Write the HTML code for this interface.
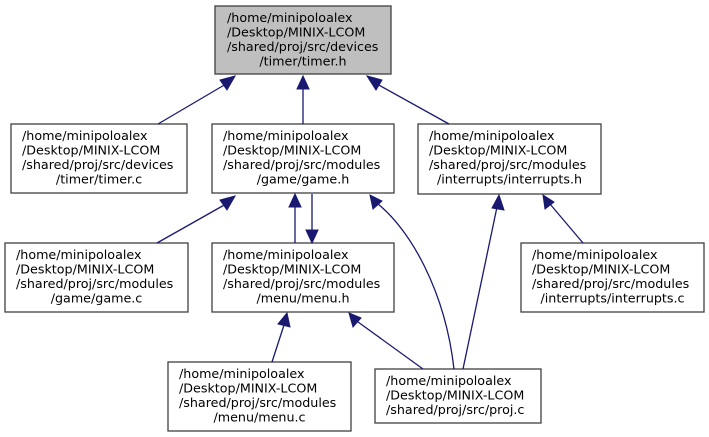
<!DOCTYPE html>
<html><head><meta charset="utf-8"><style>
html,body{margin:0;padding:0;background:#fff;}
svg{display:block;}
text{font-family:"DejaVu Sans","Liberation Sans",sans-serif;font-size:12.7px;fill:#000;}
.b{fill:#fff;stroke:#404040;stroke-width:1.3;}
.e{fill:none;stroke:#191970;stroke-width:1.3;}
.a{fill:#191970;stroke:#191970;}
</style></head><body>
<svg width="709" height="437" viewBox="0 0 709 437" xmlns="http://www.w3.org/2000/svg">
<rect x="215" y="6" width="176" height="68" style="fill:#bfbfbf;stroke:#404040;stroke-width:1.3"/>
<text x="227" y="22">/home/minipoloalex</text>
<text x="227" y="36.5">/Desktop/MINIX-LCOM</text>
<text x="227" y="51">/shared/proj/src/devices</text>
<text x="303" y="65.5" text-anchor="middle">/timer/timer.h</text>

<rect class="b" x="11" y="124" width="176" height="69"/>
<text x="22" y="140">/home/minipoloalex</text>
<text x="22" y="154.5">/Desktop/MINIX-LCOM</text>
<text x="22" y="169">/shared/proj/src/devices</text>
<text x="99" y="183.5" text-anchor="middle">/timer/timer.c</text>

<rect class="b" x="212" y="124" width="182" height="69"/>
<text x="223" y="140">/home/minipoloalex</text>
<text x="223" y="154.5">/Desktop/MINIX-LCOM</text>
<text x="223" y="169">/shared/proj/src/modules</text>
<text x="303" y="183.5" text-anchor="middle">/game/game.h</text>

<rect class="b" x="418" y="124" width="183" height="70"/>
<text x="429" y="140">/home/minipoloalex</text>
<text x="429" y="154.5">/Desktop/MINIX-LCOM</text>
<text x="429" y="169">/shared/proj/src/modules</text>
<text x="509.5" y="183.5" text-anchor="middle">/interrupts/interrupts.h</text>

<rect class="b" x="5" y="243" width="183" height="69"/>
<text x="16" y="259">/home/minipoloalex</text>
<text x="16" y="273.5">/Desktop/MINIX-LCOM</text>
<text x="16" y="288">/shared/proj/src/modules</text>
<text x="96.5" y="302.5" text-anchor="middle">/game/game.c</text>

<rect class="b" x="212" y="243" width="182" height="69"/>
<text x="223" y="259">/home/minipoloalex</text>
<text x="223" y="273.5">/Desktop/MINIX-LCOM</text>
<text x="223" y="288">/shared/proj/src/modules</text>
<text x="303" y="302.5" text-anchor="middle">/menu/menu.h</text>

<rect class="b" x="521" y="243" width="183" height="69"/>
<text x="532" y="259">/home/minipoloalex</text>
<text x="532" y="273.5">/Desktop/MINIX-LCOM</text>
<text x="532" y="288">/shared/proj/src/modules</text>
<text x="612.5" y="302.5" text-anchor="middle">/interrupts/interrupts.c</text>

<rect class="b" x="168" y="362" width="183" height="69"/>
<text x="179" y="378">/home/minipoloalex</text>
<text x="179" y="392.5">/Desktop/MINIX-LCOM</text>
<text x="179" y="407">/shared/proj/src/modules</text>
<text x="259.5" y="421.5" text-anchor="middle">/menu/menu.c</text>

<rect class="b" x="375" y="369" width="166" height="54"/>
<text x="386" y="385">/home/minipoloalex</text>
<text x="386" y="399.5">/Desktop/MINIX-LCOM</text>
<text x="386" y="414">/shared/proj/src/proj.c</text>

<line class="e" x1="158" y1="124" x2="226" y2="84"/>
<polygon class="a" points="235,76 220,80 227,90"/>
<line class="e" x1="303" y1="124" x2="303" y2="87"/>
<polygon class="a" points="303,76 297,89 309,89"/>
<line class="e" x1="449" y1="124" x2="377" y2="84"/>
<polygon class="a" points="367,76 376,90 382,80"/>

<line class="e" x1="157" y1="243" x2="226" y2="204"/>
<polygon class="a" points="235,196 220,200 227,210"/>
<line class="e" x1="295" y1="243" x2="295" y2="206"/>
<polygon class="a" points="295,194 289,207 301,207"/>
<line class="e" x1="312" y1="194" x2="312" y2="231"/>
<polygon class="a" points="312,243 306,230 318,230"/>
<path class="e" d="M454,369 C445,290 410,230 378,204"/>
<polygon class="a" points="370,195 373,209 382,201"/>
<line class="e" x1="463" y1="369" x2="497" y2="207"/>
<polygon class="a" points="499,195 492,208 504,210"/>
<line class="e" x1="583" y1="243" x2="550" y2="204"/>
<polygon class="a" points="543,195 545,209 554,202"/>

<line class="e" x1="272" y1="362" x2="284" y2="325"/>
<polygon class="a" points="287,313 278,324 290,327"/>
<line class="e" x1="423" y1="369" x2="358" y2="322"/>
<polygon class="a" points="349,313 353,327 361,318"/>
</svg>
</body></html>
